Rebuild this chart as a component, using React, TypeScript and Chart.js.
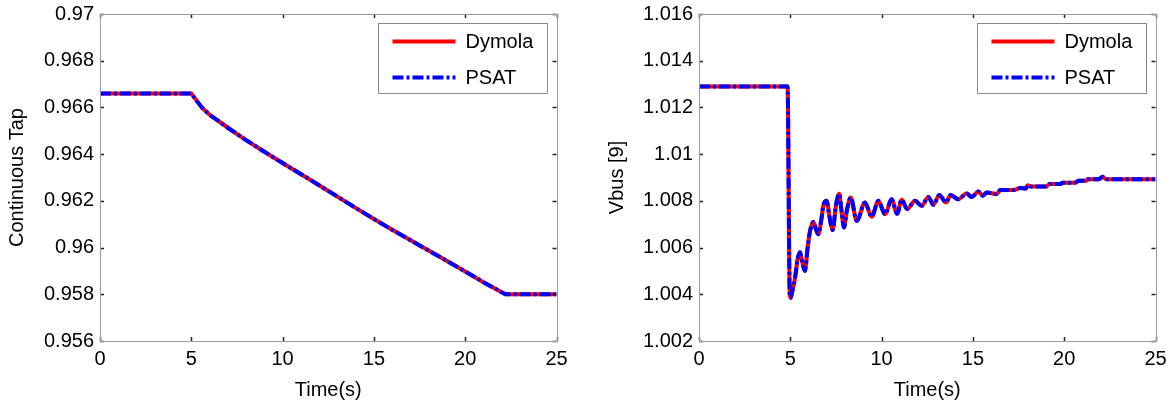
import React, { useEffect, useRef } from "react";
import { Chart, registerables } from "chart.js";
Chart.register(...registerables);

// ---- Data ----
const timeTap = [0, 5, 5.3, 5.6, 6, 7, 8, 9, 10, 12, 14, 15, 16, 18, 20, 21, 22.2, 25];
const tapDymola = [0.9666, 0.9666, 0.96628, 0.96598, 0.96569, 0.96513, 0.9646, 0.9641, 0.96362, 0.96267, 0.9617, 0.96122, 0.96076, 0.95987, 0.95898, 0.95852, 0.958, 0.958];
const tapPSAT = [0.9666, 0.9666, 0.96628, 0.96598, 0.96569, 0.96513, 0.9646, 0.9641, 0.96362, 0.96267, 0.9617, 0.96122, 0.96076, 0.95987, 0.95898, 0.95852, 0.958, 0.958];

const timeV = [0, 4.85, 4.97, 5.02, 5.1, 5.26, 5.4, 5.53, 5.65, 5.8, 5.95, 6.08, 6.26, 6.4, 6.53, 6.7, 6.81, 6.99, 7.15, 7.32, 7.5, 7.68, 7.8, 7.94, 8.1, 8.31, 8.64, 9.09, 9.46, 9.82, 10.19, 10.55, 10.85, 11.1, 11.4, 11.83, 12.2, 12.56, 12.83, 13.16, 13.53, 13.78, 14.2, 14.66, 14.93, 15.3, 15.54, 15.76, 16.3, 16.5, 17.2, 17.6, 17.9, 18.0, 18.2, 19.0, 19.2, 19.8, 19.9, 20.6, 20.8, 21.2, 21.3, 21.9, 22.1, 22.3, 25];
const vbusDymola = [1.0129, 1.0129, 1.004, 1.00385, 1.0041, 1.0047, 1.0055, 1.0058, 1.0054, 1.005, 1.006, 1.0067, 1.0071, 1.0068, 1.00657, 1.0072, 1.0078, 1.008, 1.0073, 1.00675, 1.0078, 1.0083, 1.0076, 1.00686, 1.0076, 1.00814, 1.00714, 1.00793, 1.00732, 1.008, 1.00743, 1.00807, 1.00745, 1.00805, 1.00765, 1.008, 1.00779, 1.00817, 1.00783, 1.00825, 1.00793, 1.00825, 1.00807, 1.00831, 1.00817, 1.0084, 1.00822, 1.00836, 1.00829, 1.00846, 1.00846, 1.00855, 1.00853, 1.00867, 1.00861, 1.00861, 1.00872, 1.00872, 1.00878, 1.00878, 1.00886, 1.00886, 1.00893, 1.00893, 1.00903, 1.00893, 1.00893];
const vbusPSAT = [...vbusDymola];

const xTicks = [0, 5, 10, 15, 20, 25];
const tapTicks = [0.956, 0.958, 0.96, 0.962, 0.964, 0.966, 0.968, 0.97];
const vbusTicks = [1.002, 1.004, 1.006, 1.008, 1.01, 1.012, 1.014, 1.016];
const seriesNames = ["Dymola", "PSAT"];

const FONT = "'Liberation Sans', Arial, sans-serif";
const RED = "#ff0000";
const BLUE = "#0000ff";
const DASH = [11, 3, 3, 3];

const frameTicks = {
  id: "frameTicks",
  afterDatasetsDraw(chart: any) {
    const { ctx, chartArea: a, scales } = chart;
    ctx.save();
    ctx.strokeStyle = "#222";
    ctx.lineWidth = 1.5;
    const L = 4;
    scales.x.ticks.forEach((t: any) => {
      const px = Math.round(scales.x.getPixelForValue(t.value)) + 0.5;
      ctx.beginPath();
      ctx.moveTo(px, a.bottom);
      ctx.lineTo(px, a.bottom - L);
      ctx.moveTo(px, a.top);
      ctx.lineTo(px, a.top + L);
      ctx.stroke();
    });
    scales.y.ticks.forEach((t: any) => {
      const py = Math.round(scales.y.getPixelForValue(t.value)) + 0.5;
      ctx.beginPath();
      ctx.moveTo(a.left, py);
      ctx.lineTo(a.left + L, py);
      ctx.moveTo(a.right, py);
      ctx.lineTo(a.right - L, py);
      ctx.stroke();
    });
    ctx.strokeStyle = "#9a9a9a";
    ctx.lineWidth = 1;
    ctx.strokeRect(Math.round(a.left) + 0.5, Math.round(a.top) + 0.5, Math.round(a.right - a.left), Math.round(a.bottom - a.top));
    ctx.restore();
  },
};

const boxLegend = {
  id: "boxLegend",
  afterDraw(chart: any) {
    const { ctx, chartArea: a } = chart;
    const w = 169, h = 70;
    const left = Math.round(a.right - 10 - w) + 0.5;
    const top = Math.round(a.top + 9) + 0.5;
    ctx.save();
    ctx.fillStyle = "#fff";
    ctx.fillRect(left, top, w, h);
    ctx.strokeStyle = "#8a8a8a";
    ctx.lineWidth = 1;
    ctx.strokeRect(left, top, w, h);
    const rows = [top + 18, top + 54];
    chart.data.datasets.forEach((ds: any, i: number) => {
      ctx.beginPath();
      ctx.strokeStyle = ds.borderColor;
      ctx.lineWidth = 4;
      ctx.setLineDash(ds.borderDash || []);
      ctx.moveTo(left + 14, rows[i]);
      ctx.lineTo(left + 77, rows[i]);
      ctx.stroke();
      ctx.setLineDash([]);
      ctx.fillStyle = "#000";
      ctx.font = `20px ${FONT}`;
      ctx.textBaseline = "middle";
      ctx.textAlign = "left";
      ctx.fillText(ds.label, left + 87, rows[i] + 1);
    });
    ctx.restore();
  },
};

function fmt(v: number) {
  return Number(Number(v).toFixed(3)).toString();
}

function zeroPad(s: any) {
  s.paddingTop = 0;
  s.paddingBottom = 0;
  s.paddingLeft = 0;
  s.paddingRight = 0;
}

function makeConfig(xs: number[], ys1: number[], ys2: number[], yTicks: number[], yTitle: string, yWidth: number, rightPad: number, titlePad: number, smooth: boolean) {
  const pts = (ys: number[]) => xs.map((x, i) => ({ x, y: ys[i] }));
  return {
    type: "line",
    data: {
      datasets: [
        { label: seriesNames[0], data: pts(ys1), borderColor: RED, borderWidth: 4, pointRadius: 0, order: 2, cubicInterpolationMode: smooth ? "monotone" : "default", fill: false },
        { label: seriesNames[1], data: pts(ys2), borderColor: BLUE, borderWidth: 4, borderDash: DASH, pointRadius: 0, order: 1, cubicInterpolationMode: smooth ? "monotone" : "default", fill: false },
      ],
    },
    options: {
      animation: false,
      responsive: false,
      layout: { padding: { top: 14, right: rightPad, left: 0, bottom: 0 } },
      plugins: { legend: { display: false }, tooltip: { enabled: false } },
      scales: {
        x: {
          type: "linear",
          min: xTicks[0],
          max: xTicks[xTicks.length - 1],
          afterBuildTicks: (s: any) => { s.ticks = xTicks.map((v) => ({ value: v })); },
          afterFit: (s: any) => { s.height = 61; zeroPad(s); },
          grid: { display: false, drawTicks: false },
          border: { display: false },
          ticks: { color: "#000", font: { family: FONT, size: 20 }, padding: 6, maxRotation: 0, autoSkip: false },
          title: { display: true, text: "Time(s)", color: "#000", font: { family: FONT, size: 20, lineHeight: 1.2 }, padding: { top: 0, bottom: 0 } },
        },
        y: {
          type: "linear",
          min: yTicks[0],
          max: yTicks[yTicks.length - 1],
          afterBuildTicks: (s: any) => { s.ticks = yTicks.map((v) => ({ value: v })); },
          afterFit: (s: any) => { s.width = yWidth; zeroPad(s); },
          grid: { display: false, drawTicks: false },
          border: { display: false },
          ticks: { color: "#000", font: { family: FONT, size: 20 }, padding: 6, autoSkip: false, callback: (v: any) => fmt(v) },
          title: { display: true, text: yTitle, color: "#000", font: { family: FONT, size: 20, lineHeight: 1.2 }, padding: { top: titlePad, bottom: 0 } },
        },
      },
    },
    plugins: [frameTicks, boxLegend],
  } as any;
}

function ChartCanvas({ config, left }: { config: any; left: number }) {
  const ref = useRef<HTMLCanvasElement>(null);
  useEffect(() => {
    const c = new Chart(ref.current as HTMLCanvasElement, config);
    return () => c.destroy();
  }, []);
  return <canvas ref={ref} width={585} height={402} style={{ position: "absolute", left, top: 0, display: "block" }} />;
}

export default function App() {
  const c1 = makeConfig(timeTap, tapDymola, tapPSAT, tapTicks, "Continuous Tap", 100, 28.5, 5, false);
  const c2 = makeConfig(timeV, vbusDymola, vbusPSAT, vbusTicks, "Vbus [9]", 114, 14.5, 20, true);
  return (
    <div style={{ position: "absolute", left: 0, top: 0, width: 1170, height: 402, background: "#fff" }}>
      <ChartCanvas config={c1} left={0} />
      <ChartCanvas config={c2} left={585} />
    </div>
  );
}
